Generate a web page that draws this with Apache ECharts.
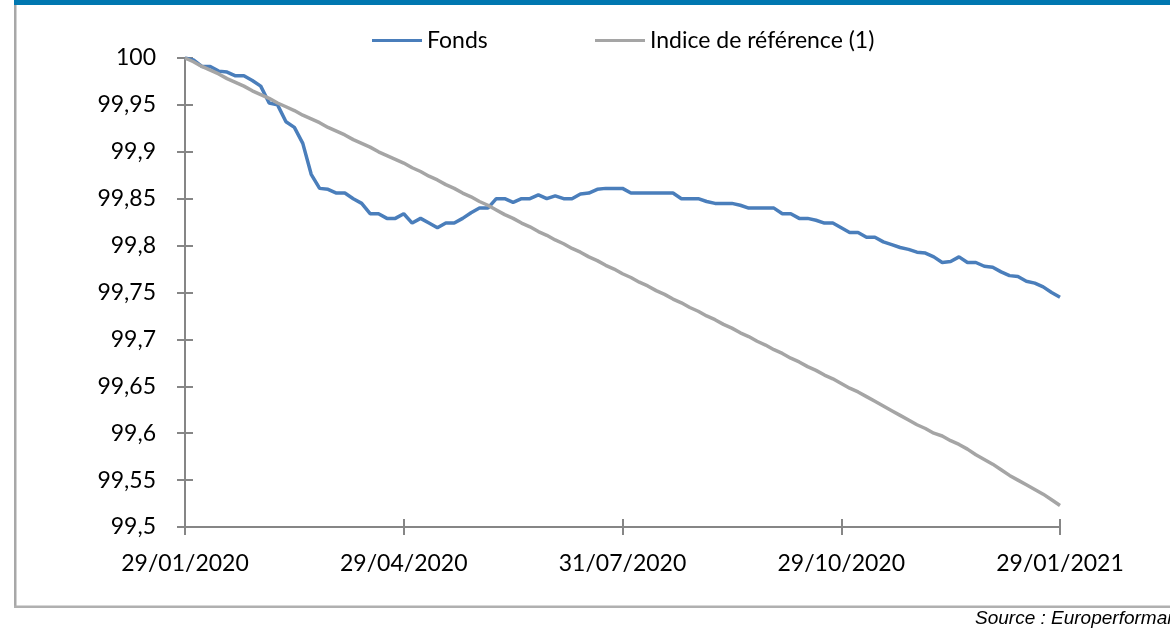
<!DOCTYPE html>
<html><head><meta charset="utf-8">
<script src="https://cdn.jsdelivr.net/npm/echarts@6/dist/echarts.min.js"></script>
<style>html,body{margin:0;padding:0;background:#fff}#c{width:1170px;height:628px}</style>
</head><body><div id="c"></div>
<script>
const tickLabels = ['29/01/2020', '29/04/2020', '31/07/2020', '29/10/2020', '29/01/2021'];
const stepsPerTick = 26;
const seriesNames = ['Fonds', 'Indice de référence (1)'];
const fonds = [
  100.000, 99.998, 99.991, 99.991, 99.986, 99.985, 99.981, 99.981, 99.976, 99.970,
  99.952, 99.950, 99.932, 99.926, 99.909, 99.876, 99.861, 99.860, 99.856, 99.856,
  99.850, 99.845, 99.834, 99.834, 99.829, 99.829, 99.834, 99.824, 99.829, 99.824,
  99.819, 99.824, 99.824, 99.829, 99.835, 99.840, 99.840, 99.850, 99.850, 99.846,
  99.850, 99.850, 99.854, 99.850, 99.853, 99.850, 99.850, 99.855, 99.856, 99.860,
  99.861, 99.861, 99.861, 99.856, 99.856, 99.856, 99.856, 99.856, 99.856, 99.850,
  99.850, 99.850, 99.847, 99.845, 99.845, 99.845, 99.843, 99.840, 99.840, 99.840,
  99.840, 99.834, 99.834, 99.829, 99.829, 99.827, 99.824, 99.824, 99.819, 99.814,
  99.814, 99.809, 99.809, 99.804, 99.801, 99.798, 99.796, 99.793, 99.792, 99.788,
  99.782, 99.783, 99.788, 99.782, 99.782, 99.778, 99.777, 99.772, 99.768, 99.767,
  99.762, 99.760, 99.756, 99.750, 99.745
];
const indice = [
  100.000, 99.996, 99.991, 99.987, 99.983, 99.978, 99.974, 99.970, 99.965, 99.961,
  99.957, 99.952, 99.948, 99.944, 99.939, 99.935, 99.931, 99.926, 99.922, 99.918,
  99.913, 99.909, 99.905, 99.900, 99.896, 99.892, 99.888, 99.883, 99.879, 99.874,
  99.870, 99.865, 99.861, 99.856, 99.852, 99.847, 99.843, 99.838, 99.833, 99.829,
  99.824, 99.820, 99.815, 99.811, 99.806, 99.802, 99.797, 99.793, 99.788, 99.784,
  99.779, 99.775, 99.770, 99.766, 99.761, 99.757, 99.752, 99.748, 99.743, 99.739,
  99.734, 99.730, 99.725, 99.721, 99.716, 99.712, 99.707, 99.703, 99.698, 99.694,
  99.689, 99.685, 99.680, 99.676, 99.671, 99.667, 99.662, 99.658, 99.653, 99.648,
  99.644, 99.639, 99.634, 99.629, 99.624, 99.619, 99.614, 99.609, 99.605, 99.600,
  99.597, 99.592, 99.588, 99.583, 99.577, 99.572, 99.567, 99.561, 99.555, 99.550,
  99.545, 99.540, 99.535, 99.529, 99.523
];
const yMin = 99.5, yMax = 100, yStep = 0.05;
const sourceText = 'Source : Europerformance';

function parseD(s) { const p = s.split('/').map(Number); return Date.UTC(p[2], p[1] - 1, p[0]); }
function fmtD(t) { const d = new Date(t); return String(d.getUTCDate()).padStart(2, '0') + '/' + String(d.getUTCMonth() + 1).padStart(2, '0') + '/' + d.getUTCFullYear(); }
const categories = [];
for (let s = 0; s < tickLabels.length - 1; s++) {
  const a = parseD(tickLabels[s]), b = parseD(tickLabels[s + 1]);
  for (let j = 0; j < stepsPerTick; j++) {
    categories.push(j === 0 ? tickLabels[s] : fmtD(Math.round((a + (b - a) * j / stepsPerTick) / 86400000) * 86400000));
  }
}
categories.push(tickLabels[tickLabels.length - 1]);

const FONT = 'Lato, "Open Sans", sans-serif';
const axisColor = '#868686';
const chart = echarts.init(document.getElementById('c'), null, { renderer: 'canvas' });

function xAxisDef(inside) {
  return {
    type: 'category', position: 'bottom', data: categories, boundaryGap: false,
    axisLine: { show: !inside, lineStyle: { color: axisColor, width: 2 } },
    axisTick: { show: true, inside: inside, length: 8, interval: stepsPerTick - 1, lineStyle: { color: axisColor, width: 2 } },
    axisLabel: { show: !inside, interval: stepsPerTick - 1, margin: 25, color: '#000', fontFamily: FONT, fontSize: 23 },
    splitLine: { show: false }
  };
}
function yAxisDef(inside) {
  return {
    type: 'value', position: 'left', min: yMin, max: yMax, interval: yStep,
    axisLine: { show: !inside, lineStyle: { color: axisColor, width: 2 } },
    axisTick: { show: true, inside: inside, length: 8, lineStyle: { color: axisColor, width: 2 } },
    axisLabel: {
      show: !inside, margin: 29, color: '#000', fontFamily: FONT, fontSize: 23,
      formatter: v => String(Math.round(v * 100) / 100).replace('.', ',')
    },
    splitLine: { show: false }
  };
}

chart.setOption({
  animation: false,
  backgroundColor: '#fff',
  grid: { left: 185, right: 110, top: 58, bottom: 101, containLabel: false },
  legend: [
    { left: 372, top: 29, data: [seriesNames[0]], icon: 'rect', itemWidth: 50, itemHeight: 3, itemGap: 0,
      textStyle: { color: '#000', fontFamily: FONT, fontSize: 23 }, padding: 0 },
    { left: 595, top: 29, data: [seriesNames[1]], icon: 'rect', itemWidth: 50, itemHeight: 3, itemGap: 0,
      textStyle: { color: '#000', fontFamily: FONT, fontSize: 23 }, padding: 0 }
  ],
  xAxis: [xAxisDef(false), xAxisDef(true)],
  yAxis: [yAxisDef(false), yAxisDef(true)],
  series: [
    { name: seriesNames[0], type: 'line', data: fonds, xAxisIndex: 0, yAxisIndex: 0, symbol: 'none',
      lineStyle: { color: '#4A7EBB', width: 3.5 }, itemStyle: { color: '#4A7EBB' } },
    { name: seriesNames[1], type: 'line', data: indice, xAxisIndex: 0, yAxisIndex: 0, symbol: 'none',
      lineStyle: { color: '#A5A5A5', width: 3.5 }, itemStyle: { color: '#A5A5A5' } }
  ],
  graphic: [
    { type: 'rect', shape: { x: 14, y: 0, width: 1156, height: 5 }, style: { fill: '#0077B0' }, silent: true },
    { type: 'rect', shape: { x: 14, y: 5, width: 2.5, height: 603 }, style: { fill: '#A8A8A8' }, silent: true },
    { type: 'rect', shape: { x: 14, y: 605.5, width: 1156, height: 2.5 }, style: { fill: '#B0B0B0' }, silent: true },
    { type: 'text', left: 975, top: 609, style: { text: sourceText, fill: '#000', font: 'italic 19px "Liberation Sans", Arial, sans-serif' }, silent: true }
  ]
});
</script>
</body></html>
